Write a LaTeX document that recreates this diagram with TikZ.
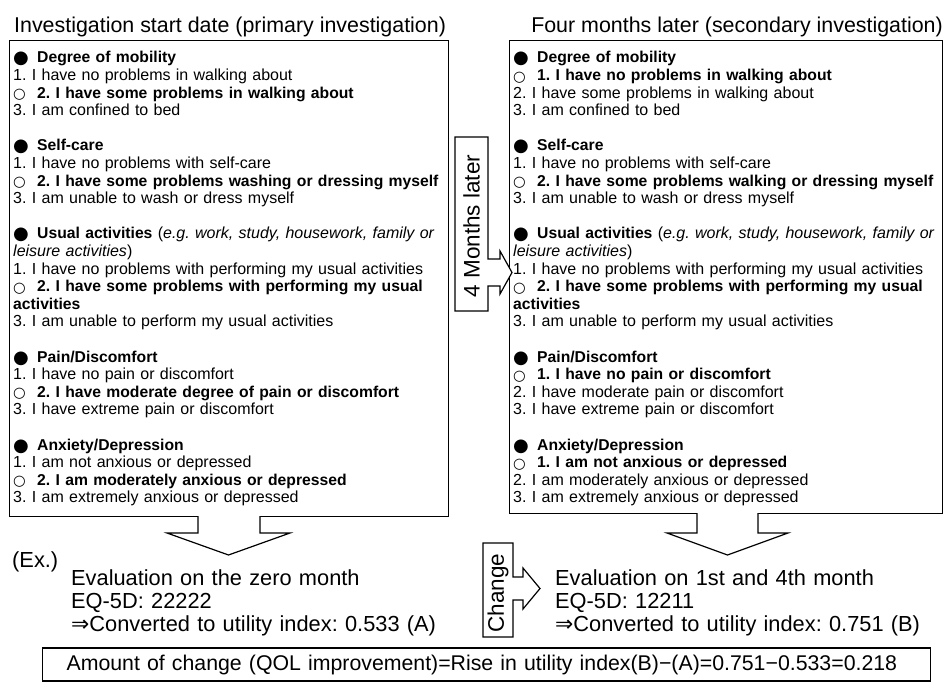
\documentclass[tikz,border=0pt]{standalone}
\usepackage{fontspec}
\setmainfont{Liberation Sans}
\newfontfamily\symf{DejaVu Sans}
\frenchspacing
\newcommand\bul{\makebox[24pt][l]{\smash{\raisebox{-1pt}{\symf\fontsize{18}{18}\selectfont ●}}}}
\newcommand\cir{\makebox[24pt][l]{\smash{\raisebox{-0.5pt}{\symf\fontsize{14.5}{14}\selectfont ○}}}}
\newcommand\bt[1]{{\fontsize{15.7}{17.6}\selectfont\bfseries #1}}
\newcommand\boxfont{\fontsize{16}{17.6}\selectfont\frenchspacing}
\newcommand\gp{\\[17.6pt]}
\begin{document}
\begin{tikzpicture}[x=1pt,y=-1pt,
  frame/.style={draw=black,line width=1.2pt,inner sep=0pt},
  shapeline/.style={draw=black,line width=1.2pt,fill=white,line join=miter},
  listtext/.style={anchor=base west,inner sep=0pt,align=left,text width=470pt,font=\boxfont},
  title/.style={inner sep=0pt,font=\fontsize{21.4}{24}\selectfont},
  evaltext/.style={anchor=base west,inner sep=0pt,align=left,text width=400pt,font=\fontsize{21.8}{23}\selectfont\frenchspacing},
  vlabel/.style={inner sep=0pt,rotate=90,font=\fontsize{22.5}{24}\selectfont}]
\useasboundingbox (0,0) rectangle (944,682);
% titles
\node[title,anchor=base west] (t1) at (14,33) {Investigation start date (primary investigation)};
\node[title,anchor=base east] (t2) at (943,33) {Four months later (secondary investigation)};
% boxes
\node[frame,anchor=north west,minimum width=439pt,minimum height=476pt] (lbox) at (9,40) {};
\node[frame,anchor=north west,minimum width=433pt,minimum height=473pt] (rbox) at (509,40) {};
% left list
\node[listtext] (ltext) at (13,63) {%
\bul\bt{Degree of mobility}\\
1. I have no problems in walking about\\
\cir\bt{2. I have some problems in walking about}\\
3. I am confined to bed\gp
\bul\bt{Self-care}\\
1. I have no problems with self-care\\
\cir\bt{2. I have some problems washing or dressing myself}\\
3. I am unable to wash or dress myself\gp
\bul\bt{Usual activities} (\textit{e.g. work, study, housework, family or}\\
\textit{leisure activities})\\
1. I have no problems with performing my usual activities\\
\cir\bt{2. I have some problems with performing my usual}\\
\bt{activities}\\
3. I am unable to perform my usual activities\gp
\bul\bt{Pain/Discomfort}\\
1. I have no pain or discomfort\\
\cir\bt{2. I have moderate degree of pain or discomfort}\\
3. I have extreme pain or discomfort\gp
\bul\bt{Anxiety/Depression}\\
1. I am not anxious or depressed\\
\cir\bt{2. I am moderately anxious or depressed}\\
3. I am extremely anxious or depressed};
% right list
\node[listtext] (rtext) at (513,63) {%
\bul\bt{Degree of mobility}\\
\cir\bt{1. I have no problems in walking about}\\
2. I have some problems in walking about\\
3. I am confined to bed\gp
\bul\bt{Self-care}\\
1. I have no problems with self-care\\
\cir\bt{2. I have some problems walking or dressing myself}\\
3. I am unable to wash or dress myself\gp
\bul\bt{Usual activities} (\textit{e.g. work, study, housework, family or}\\
\textit{leisure activities})\\
1. I have no problems with performing my usual activities\\
\cir\bt{2. I have some problems with performing my usual}\\
\bt{activities}\\
3. I am unable to perform my usual activities\gp
\bul\bt{Pain/Discomfort}\\
\cir\bt{1. I have no pain or discomfort}\\
2. I have moderate pain or discomfort\\
3. I have extreme pain or discomfort\gp
\bul\bt{Anxiety/Depression}\\
\cir\bt{1. I am not anxious or depressed}\\
2. I am moderately anxious or depressed\\
3. I am extremely anxious or depressed};
% 4 months arrow
\path[shapeline] (455,137) -- (488,137) -- (488,259) -- (500,259) -- (500,251) -- (512,272.5) -- (500,294) -- (500,286) -- (488,286) -- (488,311) -- (455,311) -- cycle;
\node[vlabel] (months) at (471.5,226) {4 Months later};
% down arrows
\path[shapeline] (198,516) -- (198,533) -- (167,533) -- (228.5,555) -- (290,533) -- (260,533) -- (260,516);
\path[shapeline] (697,513) -- (697,533) -- (667,533) -- (727.5,555) -- (788,533) -- (758,533) -- (758,513);
% change arrow
\path[shapeline] (483,543) -- (513,543) -- (513,577) -- (523,577) -- (523,568) -- (540,588.5) -- (523,609) -- (523,600) -- (513,600) -- (513,637) -- (483,637) -- cycle;
\node[vlabel] (change) at (498,593) {Change};
% evaluation texts
\node[evaltext,text width=60pt] (ex) at (12,567) {(Ex.)};
\node[evaltext] (evA) at (71,585) {Evaluation on the zero month\\EQ-5D: 22222\\{\symf ⇒}Converted to utility index: 0.533 (A)};
\node[evaltext] (evB) at (555,585) {Evaluation on 1st and 4th month\\EQ-5D: 12211\\{\symf ⇒}Converted to utility index: 0.751 (B)};
% bottom box
\node[frame,anchor=west,minimum width=888pt,minimum height=33pt,inner xsep=24pt,text width=840pt,align=left,font=\fontsize{21.3}{24}\selectfont] (qol) at (42,664.5)
  {Amount of change (QOL improvement)=Rise in utility index(B)−(A)=0.751−0.533=0.218};
\end{tikzpicture}
\end{document}
